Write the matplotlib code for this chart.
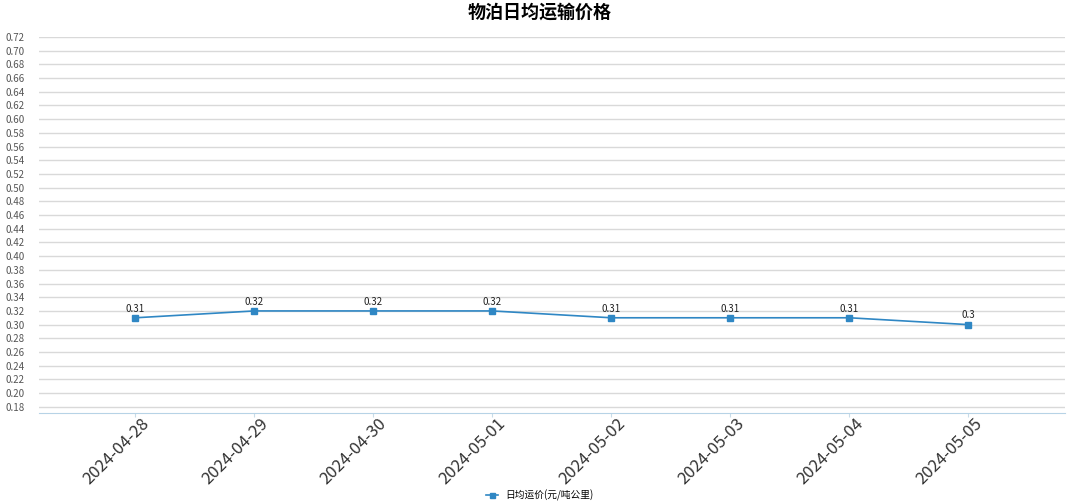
import numpy as np
import matplotlib
matplotlib.use("Agg")
import matplotlib.pyplot as plt
import matplotlib.transforms as mtransforms
from matplotlib.ticker import FixedLocator, FuncFormatter

plt.rcParams['font.family'] = ['Noto Sans CJK SC', 'DejaVu Sans']

dates = ["2024-04-28", "2024-04-29", "2024-04-30", "2024-05-01",
         "2024-05-02", "2024-05-03", "2024-05-04", "2024-05-05"]
prices = [0.31, 0.32, 0.32, 0.32, 0.31, 0.31, 0.31, 0.30]
price_labels = ["0.31", "0.32", "0.32", "0.32", "0.31", "0.31", "0.31", "0.3"]
y_ticks = [round(0.18 + 0.02 * i, 2) for i in range(28)]

line_color = "#2f87c4"

fig = plt.figure(figsize=(10.8, 5.04), dpi=100)
ax = fig.add_axes([0.036, 0.1806, 0.95, 0.746])

x = np.arange(len(dates))
ax.plot(x, prices, color=line_color, lw=1.2, marker="s", ms=4.5,
        label="日均运价(元/吨公里)")
for xi, yi, lab in zip(x, prices, price_labels):
    ax.annotate(lab, (xi, yi), xytext=(0, 3), textcoords="offset points",
                ha="center", va="bottom", fontsize=7, color="#222222")

ax.set_xlim(-0.81, len(dates) - 1 + 0.81)
ax.set_ylim(0.171, 0.72)
ax.yaxis.set_major_locator(FixedLocator(y_ticks))
ax.yaxis.set_major_formatter(FuncFormatter(lambda v, p: f"{v:.2f}"))
ax.set_xticks(x)
ax.set_xticklabels([])

# rotated date labels, drawn as text so they can sit just right of the tick
lbl_trans = ax.get_xaxis_transform() + mtransforms.ScaledTranslation(
    0.05, -0.02, fig.dpi_scale_trans)
for xi, d in zip(x, dates):
    ax.text(xi, 0, d, transform=lbl_trans, rotation=45, ha="right", va="top",
            rotation_mode="anchor", fontsize=12, color="#333333")

ax.tick_params(axis="y", length=0, labelsize=7, colors="#555555", pad=10)
ax.tick_params(axis="x", length=3, color="#c8dbe8")

ax.grid(axis="y", color="#d9d9d9", lw=1)
ax.set_axisbelow(True)
for s in ["top", "right", "left"]:
    ax.spines[s].set_visible(False)
ax.spines["bottom"].set_color("#b7d3e6")

fig.suptitle("物泊日均运输价格", fontsize=13, fontweight="bold", y=0.995)
fig.legend(loc="lower center", bbox_to_anchor=(0.5, -0.012), frameon=False,
           fontsize=7, handlelength=1.2, markerscale=0.8)

fig.savefig("out.png", dpi=100)
